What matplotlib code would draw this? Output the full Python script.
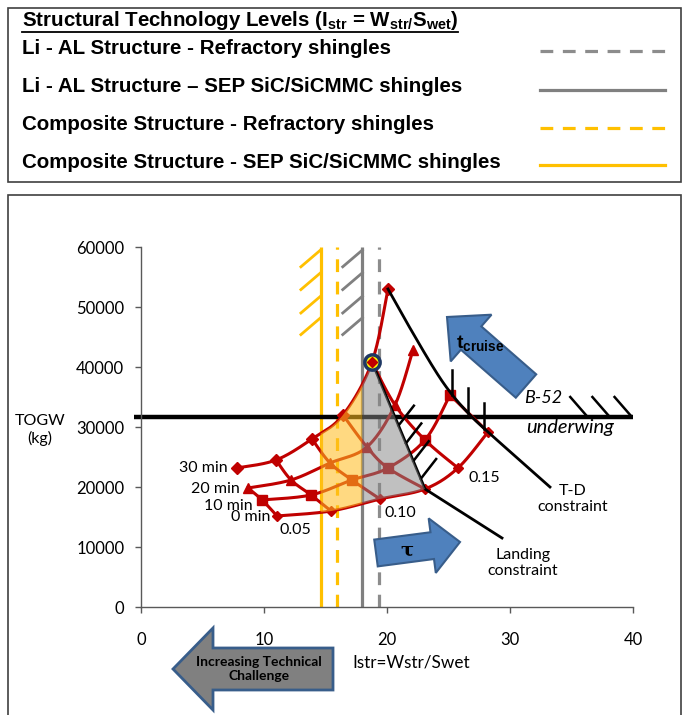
import numpy as np
import matplotlib
matplotlib.use("Agg")
import matplotlib.pyplot as plt
from matplotlib.patches import Polygon, Rectangle
from matplotlib.lines import Line2D

plt.rcParams['font.family'] = ['Lato', 'DejaVu Sans']
plt.rcParams['mathtext.fontset'] = 'custom'
plt.rcParams['mathtext.rm'] = 'Liberation Sans:bold'
plt.rcParams['mathtext.bf'] = 'Liberation Sans:bold'

# ---------------------------------------------------------------- data
# carpet columns: thrust-to-weight ratio tau
tau_values = [0.05, 0.075, 0.10, 0.125, 0.15, 0.175]
tau_labels = ["0.05", "0.10", "0.15"]

# carpet rows: cruise time, (Istr, TOGW) at each tau
time_labels = ["0 min", "10 min", "20 min", "30 min"]
istr_0min = [11.06, 15.45, 19.43, 23.09, 25.77, 28.21]
togw_0min = [15170, 16000, 18000, 19670, 23170, 29170]
istr_10min = [9.84, 13.82, 17.15, 20.08, 23.09, 25.12]
togw_10min = [17840, 18670, 21170, 23170, 27840, 35340]
istr_20min = [8.70, 12.20, 15.37, 18.37, 20.65, 22.11]
togw_20min = [19830, 21170, 24000, 26670, 33670, 42840]
istr_30min = [7.80, 10.98, 13.90, 16.42, 18.78, 20.08]
togw_30min = [23170, 24500, 28000, 32000, 40830, 53000]

# structural technology levels (Istr limits)
level_names = ["Li - AL Structure - Refractory shingles",
               "Li - AL Structure \u2013 SEP SiC/SiCMMC shingles",
               "Composite Structure - Refractory shingles",
               "Composite Structure - SEP SiC/SiCMMC shingles"]
level_istr = [19.35, 18.0, 15.95, 14.6]

# B-52 underwing carriage limit
b52_togw = 31700

# thrust-drag constraint
td_istr = [20.08, 21.63, 23.74, 25.12, 26.59, 28.21, 33.25]
td_togw = [53000, 47340, 40000, 35840, 32340, 29170, 20000]

# landing constraint
landing_istr = [18.78, 23.09, 29.35]
landing_togw = [40830, 19670, 11500]

# ---------------------------------------------------------------- helpers
W, H = 683, 715
RED = '#c00000'
ORANGE = '#ffc000'
GRAY = '#8c8c8c'


def fx(x):
    return x / W


def fy(y):
    return 1 - y / H


def smooth(xs, ys, n=30):
    """Smoothed (Catmull-Rom Bezier) curve through the given points."""
    p = np.column_stack([xs, ys]).astype(float)
    if len(p) < 3:
        return p[:, 0], p[:, 1]
    ext = np.vstack([p[0], p, p[-1]])
    t = np.linspace(0, 1, n + 1)[1:, None]
    out = [p[:1]]
    for i in range(len(p) - 1):
        p0, p1, p2, p3 = ext[i], ext[i + 1], ext[i + 2], ext[i + 3]
        c1 = p1 + (p2 - p0) / 6
        c2 = p2 - (p3 - p1) / 6
        seg = ((1 - t) ** 3) * p1 + 3 * ((1 - t) ** 2) * t * c1 \
            + 3 * (1 - t) * t ** 2 * c2 + t ** 3 * p2
        out.append(seg)
    out = np.vstack(out)
    return out[:, 0], out[:, 1]


def arrow_poly(tail, tip, body_hw, head_hw, head_len):
    T = np.array(tail, float)
    P = np.array(tip, float)
    d = P - T
    L = np.hypot(*d)
    u = d / L
    nrm = np.array([-u[1], u[0]])
    B = T + u * (L - head_len)
    pts = [T + nrm * body_hw, B + nrm * body_hw, B + nrm * head_hw, P,
           B - nrm * head_hw, B - nrm * body_hw, T - nrm * body_hw]
    return [(fx(x), fy(y)) for x, y in pts]


# ---------------------------------------------------------------- figure
fig = plt.figure(figsize=(6.83, 7.15), dpi=100)

# outer frames
fig.add_artist(Rectangle((fx(8), fy(182)), fx(673), (182 - 8) / H,
                         transform=fig.transFigure, fill=False,
                         edgecolor='#404040', lw=1.2))
fig.add_artist(Rectangle((fx(8), fy(725)), fx(673), (725 - 195) / H,
                         transform=fig.transFigure, fill=False,
                         edgecolor='#404040', lw=1.2, clip_on=False))

# legend block
title = fig.text(fx(22), fy(21),
                 r"Structural Technology Levels (I$_{\mathbf{str}}$ = "
                 r"W$_{\mathbf{str/}}$S$_{\mathbf{wet}}$)",
                 family='Liberation Sans', weight='bold', fontsize=14.8,
                 va='center', ha='left')
legend_y = [48, 87, 125, 162]
legend_styles = [(GRAY, (0, (4, 3))), ('#808080', '-'),
                 (ORANGE, (0, (4, 3))), (ORANGE, '-')]
for name, y, (col, ls) in zip(level_names, legend_y, legend_styles):
    fig.text(fx(22), fy(y), name, family='Liberation Sans', weight='bold',
             fontsize=14.8, va='center', ha='left')
    fig.add_artist(Line2D([fx(540), fx(665)], [fy(y + 3), fy(y + 3)],
                          transform=fig.transFigure, color=col, lw=2.3,
                          linestyle=ls))

# axes
ax = fig.add_axes([141 / W, 1 - 607 / H, (633 - 141) / W, (607 - 247) / H])
ax.set_xlim(0, 40)
ax.set_ylim(0, 60000)
ax.set_xticks(np.arange(0, 41, 10))
ax.set_yticks(np.arange(0, 60001, 10000))
for s in ['top', 'right']:
    ax.spines[s].set_visible(False)
for s in ['left', 'bottom']:
    ax.spines[s].set_color('#595959')
    ax.spines[s].set_linewidth(1.0)
ax.tick_params(axis='both', direction='out', length=4, width=1,
               color='#595959', labelsize=12)
ax.tick_params(axis='y', pad=8)
ax.tick_params(axis='x', pad=14)

# structural level lines
for xv, (col, ls) in zip(level_istr, legend_styles):
    ax.plot([xv, xv], [0, 60000], color=col, lw=2.3, linestyle=ls, zorder=2,
            solid_capstyle='butt')

# hatches on the two solid level lines
hatch_tops = [59500, 55700, 51800, 48200]
for xv, col in [(level_istr[3], ORANGE), (level_istr[1], '#808080')]:
    for yt in hatch_tops:
        ax.plot([xv, xv - 1.6], [yt, yt - 2800], color=col, lw=2, zorder=2)

# B-52 line and hatches
ax.plot([-0.6, 40], [b52_togw, b52_togw], color='black', lw=3.2, zorder=2,
        clip_on=False, solid_capstyle='butt')
for xs in [34.9, 36.7, 38.5]:
    ax.plot([xs, xs + 1.4], [b52_togw + 3300, b52_togw], color='black',
            lw=1.8, zorder=2)

# carpet rows
rows_x = [istr_0min, istr_10min, istr_20min, istr_30min]
rows_y = [togw_0min, togw_10min, togw_20min, togw_30min]
row_markers = [('D', 5.5), ('s', 7), ('^', 7.5), ('D', 6.5)]
for xs, ys, (mk, ms) in zip(rows_x, rows_y, row_markers):
    sx, sy = smooth(xs, ys)
    ax.plot(sx, sy, color=RED, lw=2.2, zorder=3)
    ax.plot(xs, ys, linestyle='none', marker=mk, ms=ms, color=RED, zorder=3)

# carpet columns (constant tau), starting at the longest converged time
column_start = [1, 0, 0, 0, 0, 2]
for j, start in enumerate(column_start):
    cx = [r[j] for r in rows_x][:4 - start]
    cy = [r[j] for r in rows_y][:4 - start]
    sx, sy = smooth(cx, cy)
    ax.plot(sx, sy, color=RED, lw=2.2, zorder=3)

# T-D constraint with hatches
tdx, tdy = smooth(td_istr, td_togw)
ax.plot(tdx, tdy, color='black', lw=2.0, zorder=3.5)
for xh in [25.3, 26.6, 27.9]:
    y0 = np.interp(xh, tdx, tdy)
    ax.plot([xh, xh], [y0, y0 + 4200], color='black', lw=1.8, zorder=3.5)

# landing constraint with hatches
ax.plot(landing_istr, landing_togw, color='black', lw=2.0, zorder=3.5)
for f in [0.5, 0.64, 0.78, 0.92]:
    x0 = landing_istr[0] + f * (landing_istr[1] - landing_istr[0])
    y0 = landing_togw[0] + f * (landing_togw[1] - landing_togw[0])
    ax.plot([x0, x0 + 1.25], [y0, y0 + 3300], color='black', lw=1.8,
            zorder=3.5)

# feasible regions
s30x, s30y = smooth(istr_30min, togw_30min, n=60)
s0x, s0y = smooth(istr_0min, togw_0min, n=60)


def curve_between(sx, sy, a, b):
    m = (sx > a) & (sx < b)
    xs = np.concatenate([[a], sx[m], [b]])
    ys = np.concatenate([[np.interp(a, sx, sy)], sy[m], [np.interp(b, sx, sy)]])
    return xs, ys


lo, hi = level_istr[3], level_istr[1]
ux, uy = curve_between(s30x, s30y, lo, hi)
bx, by = curve_between(s0x, s0y, lo, hi)
orange_poly = np.column_stack([np.concatenate([ux, bx[::-1]]),
                               np.concatenate([uy, by[::-1]])])
ax.add_patch(Polygon(orange_poly, closed=True, facecolor=(1.0, 0.74, 0.13),
                     alpha=0.57, edgecolor='none', zorder=4))

ux, uy = curve_between(s30x, s30y, hi, istr_30min[4])
bx, by = curve_between(s0x, s0y, hi, landing_istr[1])
gray_poly = np.column_stack([np.concatenate([ux, bx[::-1]]),
                             np.concatenate([uy, by[::-1]])])
ax.add_patch(Polygon(gray_poly, closed=True, facecolor='#868686',
                     alpha=0.52, edgecolor='none', zorder=4))

# design point
ax.plot([istr_30min[4]], [togw_30min[4]], marker='o', ms=11,
        markerfacecolor='#ffff00', markeredgecolor='#1f3864',
        markeredgewidth=2.5, zorder=5)
ax.plot([istr_30min[4]], [togw_30min[4]], marker='D', ms=5, color=RED,
        zorder=5.5)

# labels on the carpet
lab_kw = dict(fontsize=11.5, zorder=6)
label_offsets = [(-5, -1), (-7, -4), (-6, -0.5), (-6.5, 0)]
for lab, xs, ys, off in zip(time_labels, rows_x, rows_y, label_offsets):
    ax.annotate(lab, (xs[0], ys[0]), xytext=off, textcoords='offset points',
                ha='right', va='center', **lab_kw)
for lab, j, off in zip(tau_labels, [0, 2, 4], [(13, -10), (15, -10), (19, -7)]):
    ax.annotate(lab, (istr_0min[j], togw_0min[j]), xytext=off,
                textcoords='offset points', ha='center', va='center', **lab_kw)

ax.text(32.7, 34800, "B-52", fontsize=13, style='italic', ha='center',
        va='center')
ax.text(34.9, 30000, "underwing", fontsize=14.5, style='italic',
        ha='center', va='center')
fig.text(fx(573), fy(499), "T-D\nconstraint", fontsize=11.5, ha='center',
         va='center', linespacing=1.15)
fig.text(fx(523), fy(563), "Landing\nconstraint", fontsize=11.5,
         ha='center', va='center', linespacing=1.15)

# axis titles
fig.text(fx(40), fy(430), "TOGW\n(kg)", fontsize=11.5, ha='center',
         va='center', linespacing=1.2)
fig.text(fx(411), fy(663), "Istr=Wstr/Swet", fontsize=12.3, ha='center',
         va='center')

# direction arrows
fig.add_artist(Polygon(arrow_poly((526, 386), (447, 317), 15.5, 31, 32),
                       closed=True, transform=fig.transFigure,
                       facecolor='#4f81bd', edgecolor='#385d8a', lw=1.5))
fig.text(fx(480), fy(344), r"$\mathbf{t}_{\mathbf{cruise}}$", fontsize=14,
         ha='center', va='center')
fig.add_artist(Polygon(arrow_poly((376, 553), (460, 542), 13.5, 27.5, 28),
                       closed=True, transform=fig.transFigure,
                       facecolor='#4f81bd', edgecolor='#385d8a', lw=1.5))
fig.text(fx(407), fy(551), "\u03c4", family='DejaVu Serif', weight='bold',
         fontsize=14, ha='center', va='center')
fig.add_artist(Polygon(arrow_poly((333, 669), (173, 669), 21, 41, 40),
                       closed=True, transform=fig.transFigure,
                       facecolor='#808080', edgecolor='#385d8a', lw=2))
fig.text(fx(259), fy(669), "Increasing Technical\nChallenge", fontsize=10,
         weight='bold', ha='center', va='center', linespacing=1.15)

# underline the legend title
fig.canvas.draw()
bb = title.get_window_extent()
fig.add_artist(Line2D([bb.x0 / W, bb.x1 / W], [fy(32), fy(32)],
                      transform=fig.transFigure, color='black', lw=1.3))

fig.savefig("out.png", dpi=100)
